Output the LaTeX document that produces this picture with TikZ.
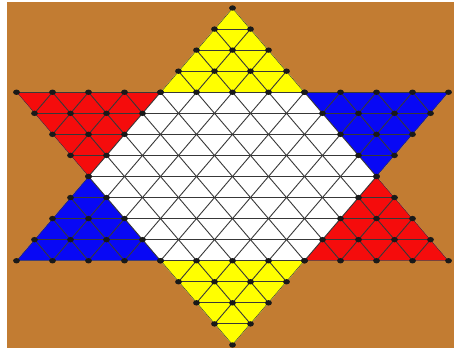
\documentclass[tikz,border=0pt]{standalone}
\definecolor{boardbrown}{RGB}{194,124,50}
\definecolor{yel}{RGB}{255,255,0}
\definecolor{redc}{RGB}{245,12,12}
\definecolor{bluec}{RGB}{8,8,245}
\newcommand\lat[2]{({232.5+(#1)*18},{8+(#2)*21.06})}
\newcommand\tridots[3]{%
  \foreach \i in {0,...,4}{%
    \foreach \k in {0,...,\i}{%
      \fill[dotc] \lat{#1+2*\k-\i}{#2+(#3)*\i} ellipse[x radius=3.4, y radius=2.7];
    }%
  }%
}
\tikzset{
  gridline/.style={draw=black!78, line width=0.9pt},
  dotc/.style={fill=black!90}
}
\begin{document}
\begin{tikzpicture}[x=1pt,y=-1pt]
\useasboundingbox (0,0) rectangle (454,351);
\fill[white] (0,0) rectangle (454,351);
\fill[boardbrown] (7,2) rectangle (454,348);
% star base
\fill[white] \lat{0}{0} -- \lat{-12}{12} -- \lat{12}{12} -- cycle;
\fill[white] \lat{0}{16} -- \lat{-12}{4} -- \lat{12}{4} -- cycle;
% coloured points of the star
\fill[yel] \lat{0}{0} -- \lat{-4}{4} -- \lat{4}{4} -- cycle;
\fill[yel] \lat{-4}{12} -- \lat{4}{12} -- \lat{0}{16} -- cycle;
\fill[redc] \lat{-12}{4} -- \lat{-4}{4} -- \lat{-8}{8} -- cycle;
\fill[bluec] \lat{4}{4} -- \lat{12}{4} -- \lat{8}{8} -- cycle;
\fill[bluec] \lat{-8}{8} -- \lat{-12}{12} -- \lat{-4}{12} -- cycle;
\fill[redc] \lat{8}{8} -- \lat{4}{12} -- \lat{12}{12} -- cycle;
% lattice lines
\begin{scope}
\clip \lat{0}{0} -- \lat{-12}{12} -- \lat{12}{12} -- cycle
      \lat{0}{16} -- \lat{12}{4} -- \lat{-12}{4} -- cycle;
\foreach \r in {0,...,16}{\draw[gridline] \lat{-13}{\r} -- \lat{13}{\r};}
\foreach \m in {-17,...,17}{%
  \draw[gridline] \lat{2*\m}{0} -- \lat{2*\m+16}{16};
  \draw[gridline] \lat{2*\m}{0} -- \lat{2*\m-16}{16};
}
\end{scope}
% holes
\tridots{0}{0}{1}
\tridots{-8}{8}{1}
\tridots{8}{8}{1}
\tridots{-8}{8}{-1}
\tridots{8}{8}{-1}
\tridots{0}{16}{-1}
\end{tikzpicture}
\end{document}
